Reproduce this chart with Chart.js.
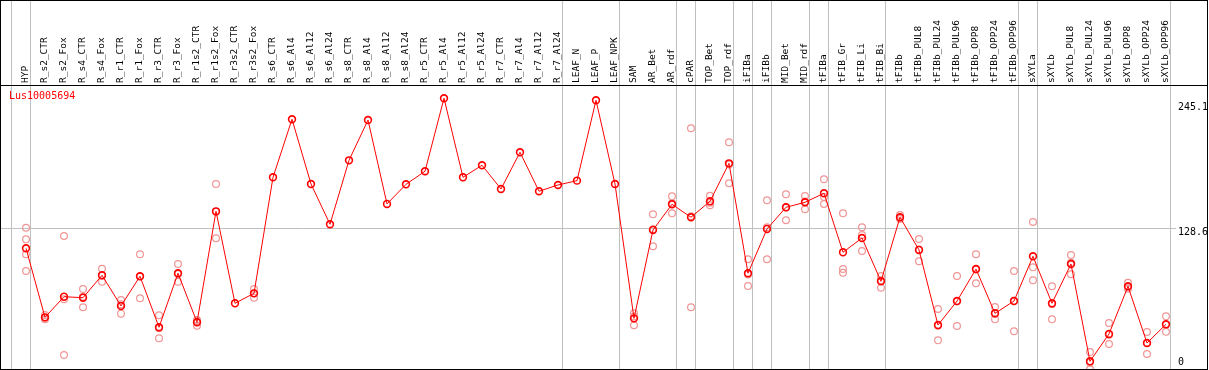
<!DOCTYPE html>
<html>
<head>
<meta charset="utf-8">
<script src="https://cdn.jsdelivr.net/npm/chart.js@4.4.1/dist/chart.umd.min.js"></script>
<style>
  html, body { margin: 0; padding: 0; background: #fff; }
  #wrap { width: 1209px; height: 370px; position: relative; }
</style>
</head>
<body>
<div id="wrap"><canvas id="Chart" width="1209" height="370"></canvas></div>
<script>
const geneName = "Lus10005694";

const categories = [
  "HYP", "R_s2_CTR", "R_s2_Fox", "R_s4_CTR", "R_s4_Fox", "R_r1_CTR", "R_r1_Fox", "R_r3_CTR", "R_r3_Fox",
  "R_r1s2_CTR", "R_r1s2_Fox", "R_r3s2_CTR", "R_r3s2_Fox", "R_s6_CTR", "R_s6_Al4", "R_s6_Al12", "R_s6_Al24",
  "R_s8_CTR", "R_s8_Al4", "R_s8_Al12", "R_s8_Al24", "R_r5_CTR", "R_r5_Al4", "R_r5_Al12", "R_r5_Al24",
  "R_r7_CTR", "R_r7_Al4", "R_r7_Al12", "R_r7_Al24", "LEAF_N", "LEAF_P", "LEAF_NPK", "SAM", "AR_Bet", "AR_rdf",
  "cPAR", "TOP_Bet", "TOP_rdf", "iFIBa", "iFIBb", "MID_Bet", "MID_rdf", "tFIBa", "tFIB_Gr", "tFIB_Li", "tFIB_Bi",
  "tFIBb", "tFIBb_PUL8", "tFIBb_PUL24", "tFIBb_PUL96", "tFIBb_OPP8", "tFIBb_OPP24", "tFIBb_OPP96",
  "sXYLa", "sXYLb", "sXYLb_PUL8", "sXYLb_PUL24", "sXYLb_PUL96", "sXYLb_OPP8", "sXYLb_OPP24", "sXYLb_OPP96"
];

// mean expression per sample
const meanValues = [
  110.7, 48.8, 67.3, 66.4, 86.5, 59.0, 85.6, 39.9, 88.3,
  44.4, 143.8, 61.4, 70.3, 174.3, 226.3, 168.3, 132.2,
  189.5, 225.6, 150.4, 168.0, 179.7, 245.1, 174.3, 185.1,
  163.8, 196.7, 161.8, 167.4, 171.3, 243.3, 168.3, 47.9, 127.1, 150.1,
  138.5, 152.8, 186.8, 88.3, 128.0, 147.4, 151.9, 160.0, 107.1, 119.9, 81.1,
  138.5, 109.2, 41.9, 63.4, 92.1, 52.4, 63.4,
  103.5, 61.4, 96.6, 9.4, 33.9, 76.6, 25.8, 42.6
];

// single replicates (light circles)
const replicateValues = [
  [129.1, 118.7, 105.3, 90.3], [50.9, 47.0, 48.5], [121.7, 15.1, 65.1], [74.2, 57.8, 67.2], [92.4, 80.7, 86.4],
  [64.3, 52.1, 60.6], [105.3, 65.9, 85.6], [50.6, 30.0, 39.1], [96.6, 80.7, 87.6],
  [46.4, 41.3, 45.5], [168.3, 119.6, 143.5], [], [74.2, 66.4, 70.3], [], [], [], [],
  [], [], [], [], [], [], [], [],
  [], [], [], [], [], [], [], [52.4, 41.7, 49.6], [141.1, 112.5, 127.7], [157.3, 142.0, 151.0],
  [218.2, 57.8, 139.5], [157.8, 149.2, 151.4], [205.7, 168.9, 185.8], [100.8, 76.9, 87.2], [153.7, 100.8, 129.5],
  [159.1, 135.8, 147.3], [157.5, 145.6, 152.6], [172.5, 156.6, 150.4], [142.0, 92.1, 88.8], [129.5, 122.6, 108.3],
  [85.9, 75.4, 82.0],
  [140.5, 136.9, 138.1], [119.0, 99.0, 109.6], [56.3, 28.2, 41.2], [85.9, 41.0, 63.3], [105.3, 79.3, 91.7],
  [58.1, 47.0, 52.1], [90.3, 36.3, 63.6],
  [134.2, 93.6, 82.0], [76.6, 47.0, 60.6], [104.7, 87.4, 97.7], [17.7, 2.2, 8.3], [43.7, 24.9, 33.1],
  [79.8, 74.5, 75.5], [35.7, 16.0, 25.7], [49.7, 35.9, 42.2]
];

// index of the last sample of each group (-1 = left edge)
const groupBreaks = [-1, 0, 28, 31, 34, 35, 37, 38, 39, 41, 42, 45, 52, 53, 60];

const yTickValues = [0, 128.6, 245.1];
const yRefLine = 128.6;

const meanPoints = meanValues.map((v, i) => ({ x: i, y: v }));
const repPoints = [];
replicateValues.forEach((reps, i) => reps.forEach(v => repPoints.push({ x: i, y: v })));

const monoFont = "'DejaVu Sans Mono', 'Liberation Mono', monospace";

function noSidePad(s) {
  s.paddingLeft = 0;
  s.paddingRight = 0;
  s.paddingTop = 0;
  s.paddingBottom = 0;
}

const decor = {
  id: "decor",
  afterDraw(chart) {
    const ctx = chart.ctx;
    const area = chart.chartArea;
    const yScale = chart.scales.y;
    ctx.save();

    // y labels on the right, kept inside the plot
    ctx.font = "10px " + monoFont;
    ctx.textBaseline = "middle";
    ctx.textAlign = "left";
    yTickValues.forEach(v => {
      let yc = yScale.getPixelForValue(v) + 4;
      yc = Math.max(area.top + 22, Math.min(area.bottom - 7, yc));
      const txt = String(v);
      const w = ctx.measureText(txt).width;
      const x = area.right - 29;
      ctx.fillStyle = "#fff";
      ctx.fillRect(x - 2, yc - 6, w + 4, 12);
      ctx.fillStyle = "#000";
      ctx.fillText(txt, x, yc);
    });

    // gene name
    ctx.fillStyle = "#ff0000";
    ctx.fillText(geneName, area.left + 8, area.top + 11);

    // frame
    ctx.strokeStyle = "#000";
    ctx.lineWidth = 1;
    ctx.strokeRect(0.5, 0.5, area.right, area.bottom);
    ctx.beginPath();
    ctx.moveTo(0, Math.round(area.top) + 0.5);
    ctx.lineTo(area.right + 1, Math.round(area.top) + 0.5);
    ctx.stroke();
    ctx.restore();
  }
};

let myChart;

function createChart() {
  myChart = new Chart("Chart", {
    type: "scatter",
    data: {
      datasets: [{
        label: geneName,
        data: meanPoints,
        showLine: true,
        borderColor: "#ff0000",
        borderWidth: 1,
        pointStyle: "circle",
        pointRadius: 3.4,
        pointBorderWidth: 1.6,
        pointBorderColor: "#ff0000",
        pointBackgroundColor: "rgba(0,0,0,0)",
        xAxisID: "x",
        yAxisID: "y"
      }, {
        label: "replicates",
        data: repPoints,
        showLine: false,
        pointStyle: "circle",
        pointRadius: 3.4,
        pointBorderWidth: 1.2,
        pointBorderColor: "rgb(240,150,150)",
        pointBackgroundColor: "rgba(0,0,0,0)",
        xAxisID: "x",
        yAxisID: "y"
      }]
    },
    options: {
      responsive: false,
      animation: false,
      devicePixelRatio: 1,
      layout: { autoPadding: false, padding: { left: 1, right: 2, top: 1, bottom: 1 } },
      plugins: { legend: { display: false }, tooltip: { enabled: false } },
      scales: {
        x: {
          type: "linear",
          position: "top",
          weight: 2,
          min: -1.316,
          max: 62.158,
          afterBuildTicks: s => { s.ticks = categories.map((c, i) => ({ value: i })); },
          afterFit: s => { s.height = 84; noSidePad(s); },
          ticks: {
            autoSkip: false,
            minRotation: 90,
            maxRotation: 90,
            padding: 2,
            labelOffset: 10.5,
            color: "#000",
            font: { family: monoFont, size: 9.5 },
            callback: v => categories[v]
          },
          grid: { display: false, drawTicks: false },
          border: { display: false }
        },
        xb: {
          type: "linear",
          position: "top",
          weight: 1,
          min: -1.316,
          max: 62.158,
          afterBuildTicks: s => { s.ticks = groupBreaks.map(k => ({ value: k + 0.237 })); },
          afterFit: s => { s.height = 0; noSidePad(s); },
          ticks: { display: false },
          grid: { color: "#c0c0c0", lineWidth: 1, tickLength: 85 },
          border: { display: false }
        },
        y: {
          type: "linear",
          position: "right",
          min: 2.51,
          max: 257.0,
          afterBuildTicks: s => { s.ticks = [{ value: yRefLine }]; },
          afterFit: s => { s.width = 0; noSidePad(s); },
          ticks: { display: false },
          grid: { color: "#c0c0c0", lineWidth: 1, drawTicks: false },
          border: { display: false }
        }
      }
    },
    plugins: [decor]
  });
}

createChart();
</script>
</body>
</html>
